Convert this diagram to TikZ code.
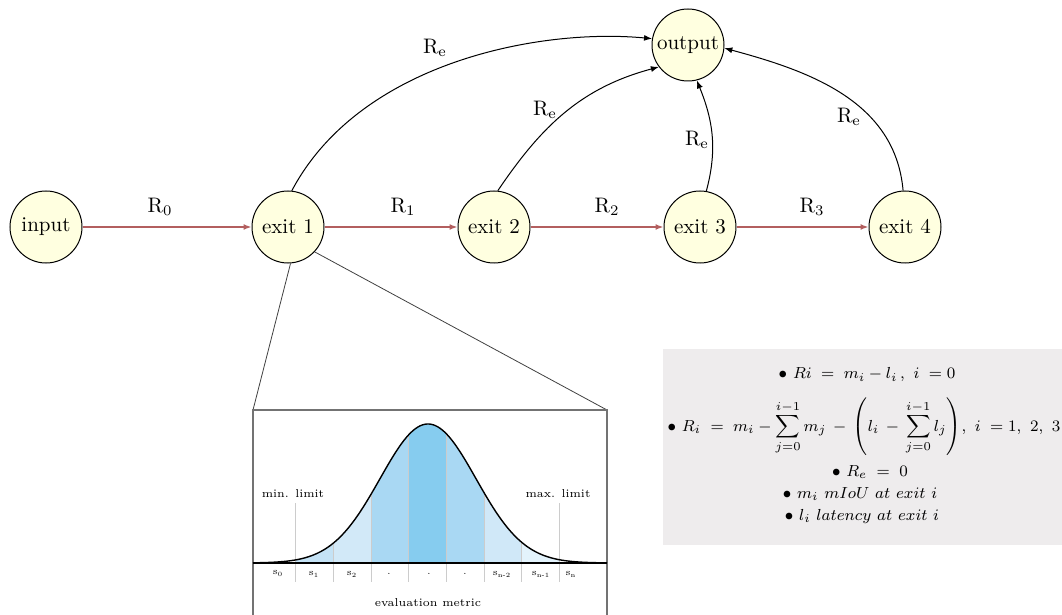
\documentclass[tikz,border=0pt]{standalone}
\usepackage{amsmath}
\usetikzlibrary{arrows.meta}
\definecolor{nodefill}{HTML}{FFFFE0}
\definecolor{redline}{HTML}{B35F5F}
\definecolor{boxgray}{HTML}{EEECED}
\definecolor{stA}{HTML}{C4E2F5}
\definecolor{stB}{HTML}{D2E9F8}
\definecolor{stC}{HTML}{A9D8F3}
\definecolor{stD}{HTML}{86CCEF}
\definecolor{stE}{HTML}{A9D8F3}
\definecolor{stF}{HTML}{D0E8F8}
\definecolor{stG}{HTML}{E3F3FC}
\definecolor{sepgray}{HTML}{CCCCCC}
\begin{document}
\begin{tikzpicture}[x=0.5pt,y=-0.5pt,
  declare function={g(\x)=563-139*exp(-0.5*((\x-428)/48)^2);},
  state/.style={circle,draw=black,line width=0.5pt,fill=nodefill,minimum size=36pt,inner sep=0pt,font=\fontsize{10.5}{12}\selectfont},
  redarrow/.style={draw=redline,line width=0.75pt,-{Latex[length=4pt,width=3pt]}},
  blackarrow/.style={draw=black,line width=0.5pt,-{Latex[length=4pt,width=3pt]}},
  lab/.style={font=\fontsize{10.5}{12}\selectfont,inner sep=0pt},
  small/.style={font=\fontsize{5.7}{7}\selectfont,inner sep=0pt},
  tiny/.style={font=\fontsize{4.6}{6}\selectfont,inner sep=0pt},
  formula/.style={font=\fontsize{8.2}{10}\selectfont,inner sep=0pt}]
\useasboundingbox (0,0) rectangle (1062,615);

% formula box
\fill[boxgray] (663,349) rectangle (1062,545);
\node[formula] (f1) at (867,375) {$\bullet\ Ri \;=\; m_i - l_i\,,\ i\;=0$};
\node[formula] (f2) at (864,427) {$\displaystyle \bullet\ R_i \;=\; m_i - \sum_{j=0}^{i-1} m_j \,-\, \left(l_i \,-\, \sum_{j=0}^{i-1} l_j\right)\!,\ i\;=1,\ 2,\ 3$};
\node[formula] (f3) at (870,472) {$\bullet\ R_e \;=\; 0$};
\node[formula] (f4) at (860,494) {$\bullet\ m_i\ mIoU\ at\ exit\ i$};
\node[formula] (f5) at (862,516) {$\bullet\ l_i\ latency\ at\ exit\ i$};

% nodes
\node[state] (in) at (46,227) {input};
\node[state] (e1) at (288,227) {exit 1};
\node[state] (e2) at (494,227) {exit 2};
\node[state] (e3) at (700,227) {exit 3};
\node[state] (e4) at (905,227) {exit 4};
\node[state] (out) at (688,45) {output};

% red chain
\draw[redarrow] (in) -- (e1);
\draw[redarrow] (e1) -- (e2);
\draw[redarrow] (e2) -- (e3);
\draw[redarrow] (e3) -- (e4);
\node[lab] (r0) at (160,207) {R\textsubscript{0}};
\node[lab] (r1) at (403,207) {R\textsubscript{1}};
\node[lab] (r2) at (607,207) {R\textsubscript{2}};
\node[lab] (r3) at (812,207) {R\textsubscript{3}};

% curves to output
\draw[blackarrow] (e1.84) .. controls (360,62) and (540,28) .. (out.170);
\draw[blackarrow] (e2.84) to[out=56,in=195] (out.217);
\draw[blackarrow] (e3.80) to[out=75,in=-68] (out.-76);
\draw[blackarrow] (e4.93) to[out=95,in=-15] (out.-5);
\node[lab] (re1) at (435,48) {R\textsubscript{e}};
\node[lab] (re2) at (545,110) {R\textsubscript{e}};
\node[lab] (re3) at (697,140) {R\textsubscript{e}};
\node[lab] (re4) at (849,117) {R\textsubscript{e}};

% zoom box
\coordinate (bl) at (253,410);
\coordinate (br) at (607,410);
\draw[line width=0.4pt,black!75] (e1.-86) -- (bl);
\draw[line width=0.4pt,black!75] (e1.-43) -- (br);
\fill[white] (253,410) rectangle (607,615);
\draw[line width=0.6pt,black!55] (253,615) -- (bl) -- (br) -- (607,615);

% stripes
\foreach \a/\b/\c in {295.7/333.3/stA,333.3/371/stB,371/408.7/stC,408.7/446.7/stD,446.7/484.3/stE,484.3/521.7/stF,521.7/559.3/stG}{
  \fill[\c] (\a,563) -- plot[domain=\a:\b,samples=25] (\x,{g(\x)}) -- (\b,563) -- cycle;
}
\foreach \a in {333.3,371,408.7,446.7,484.3,521.7}{
  \draw[sepgray,line width=0.4pt] (\a,{g(\a)}) -- (\a,582);
}
\draw[sepgray,line width=0.4pt] (295.7,503) -- (295.7,582);
\draw[sepgray,line width=0.4pt] (559.3,503) -- (559.3,582);
\draw[line width=0.8pt] (253,563) -- (607,563);
\draw[line width=0.7pt] plot[domain=253:607,samples=160] (\x,{g(\x)});

\node[small] (minl) at (293,494) {min. limit};
\node[small] (maxl) at (558,494) {max. limit};
\node[tiny] (s0) at (278,574) {s\textsubscript{0}};
\node[tiny] (s1) at (314,574) {s\textsubscript{1}};
\node[tiny] (s2) at (352,574) {s\textsubscript{2}};
\node[tiny] (d1) at (389,574) {.};
\node[tiny] (d2) at (429,574) {.};
\node[tiny] (d3) at (465,574) {.};
\node[tiny] (s3) at (502,574) {s\textsubscript{n-2}};
\node[tiny] (s4) at (541,574) {s\textsubscript{n-1}};
\node[tiny] (s5) at (571,574) {s\textsubscript{n}};
\node[small] (ev) at (428,603) {evaluation metric};
\end{tikzpicture}
\end{document}
